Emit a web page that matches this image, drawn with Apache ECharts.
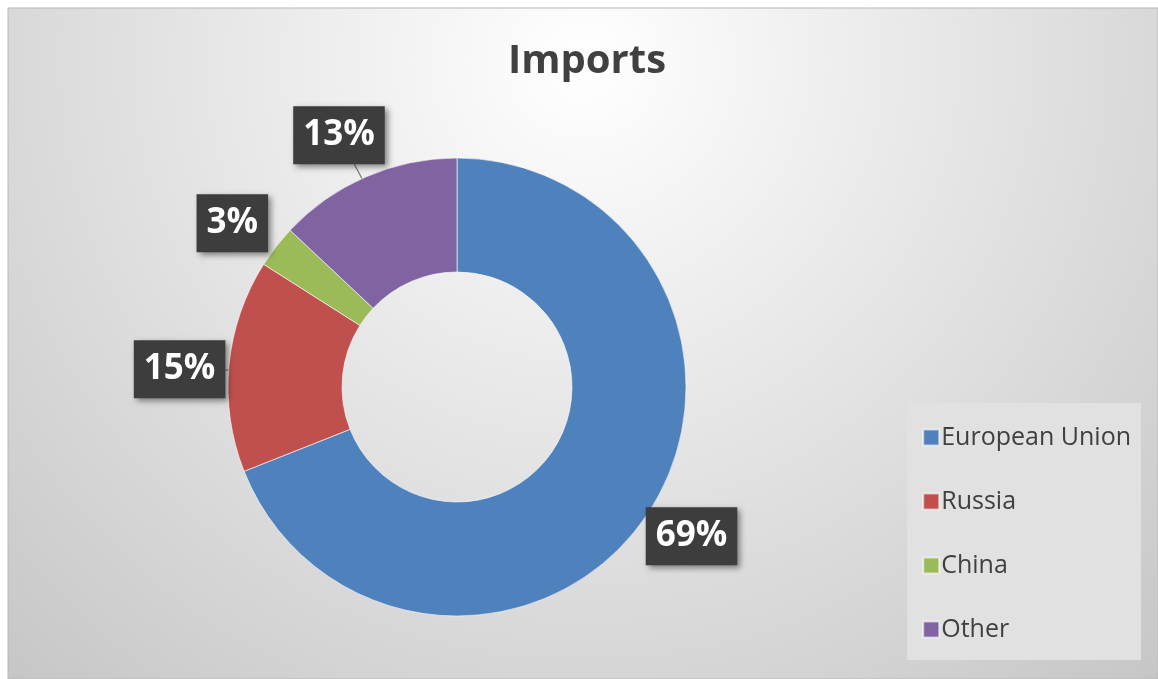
<!DOCTYPE html>
<html>
<head>
<meta charset="utf-8">
<script src="https://cdn.jsdelivr.net/npm/echarts@6/dist/echarts.min.js"></script>
<style>
html,body{margin:0;padding:0;background:#fff;}
#chart{width:1158px;height:679px;}
</style>
</head>
<body>
<div id="chart"></div>
<script>
const titleText = 'Imports';
const categories = ['European Union', 'Russia', 'China', 'Other'];
const values = [69, 15, 3, 13];
const colors = ['#4f81bd', '#c0504d', '#9bbb59', '#8064a2'];
const leaderLine = [false, true, false, true];

const CX = 457, CY = 387, R0 = 115, R1 = 229, LABEL_R = 278, LABEL_ROT = -0.03;
const total = values.reduce((a, b) => a + b, 0);
function midAngle(i) {
  let s = 0;
  for (let j = 0; j < i; j++) s += values[j];
  return (s + values[i] / 2) / total * 2 * Math.PI;
}

const chart = echarts.init(document.getElementById('chart'), null, {renderer: 'canvas'});
const FONT = '"Open Sans", "Noto Sans", sans-serif';

const option = {
  animation: false,
  graphic: [{
    type: 'rect',
    shape: {x: 8, y: 8, width: 1150, height: 671},
    style: {
      fill: {
        type: 'radial', x: 0.5, y: 0.08, r: 1.35,
        colorStops: [{offset: 0, color: '#ffffff'}, {offset: 1, color: '#c2c2c2'}]
      },
      stroke: '#b8b8b8', lineWidth: 1
    },
    z: -10, silent: true
  }],
  title: {
    text: titleText,
    left: 503,
    top: 37,
    textStyle: {fontFamily: FONT, fontSize: 40, fontWeight: 'bold', color: '#404040'}
  },
  legend: {
    orient: 'vertical',
    right: 17,
    top: 403,
    padding: [22, 10, 18, 15],
    backgroundColor: '#e1e1e1',
    itemWidth: 16,
    itemHeight: 16,
    itemGap: 39,
    icon: 'rect',
    data: categories,
    textStyle: {fontFamily: FONT, fontSize: 25, color: '#404040', padding: [0, 0, 0, -3]}
  },
  series: [{
    type: 'pie',
    center: [CX, CY],
    radius: [R0, R1],
    startAngle: 90,
    clockwise: true,
    avoidLabelOverlap: false,
    itemStyle: {borderColor: 'rgba(255,255,255,0.6)', borderWidth: 1},
    label: {
      show: true,
      position: 'outside',
      formatter: p => p.value + '%',
      fontFamily: FONT,
      fontSize: 35,
      fontWeight: 'bold',
      color: '#ffffff',
      backgroundColor: '#3d3d3d',
      padding: [10, 10, 10, 10],
      lineHeight: 38,
      shadowColor: 'rgba(0,0,0,0.45)',
      shadowBlur: 6,
      shadowOffsetX: 3,
      shadowOffsetY: 3
    },
    labelLine: {show: true, length: 10, length2: 10, lineStyle: {color: '#7f7f7f', width: 1.3}},
    labelLayout: function (p) {
      const i = p.dataIndex;
      const a = midAngle(i);
      const la = a + LABEL_ROT;
      const dx = Math.sin(a), dy = -Math.cos(a);
      const lx = CX + LABEL_R * Math.sin(la), ly = CY - LABEL_R * Math.cos(la);
      const out = {x: lx, y: ly, align: 'center', verticalAlign: 'middle'};
      if (leaderLine[i]) {
        const mr = (R0 + R1) / 2;
        const px = CX + mr * dx, py = CY + mr * dy;
        const hw = p.labelRect.width / 2, hh = p.labelRect.height / 2;
        const vx = px - lx, vy = py - ly;
        const t = Math.min(vx ? hw / Math.abs(vx) : Infinity, vy ? hh / Math.abs(vy) : Infinity);
        out.labelLinePoints = [[px, py], [lx + vx * t, ly + vy * t], [lx + vx * t, ly + vy * t]];
      }
      return out;
    },
    data: categories.map((name, i) => ({
      name: name,
      value: values[i],
      itemStyle: {color: colors[i]},
      labelLine: {show: leaderLine[i]}
    }))
  }]
};
chart.setOption(option);
</script>
</body>
</html>
